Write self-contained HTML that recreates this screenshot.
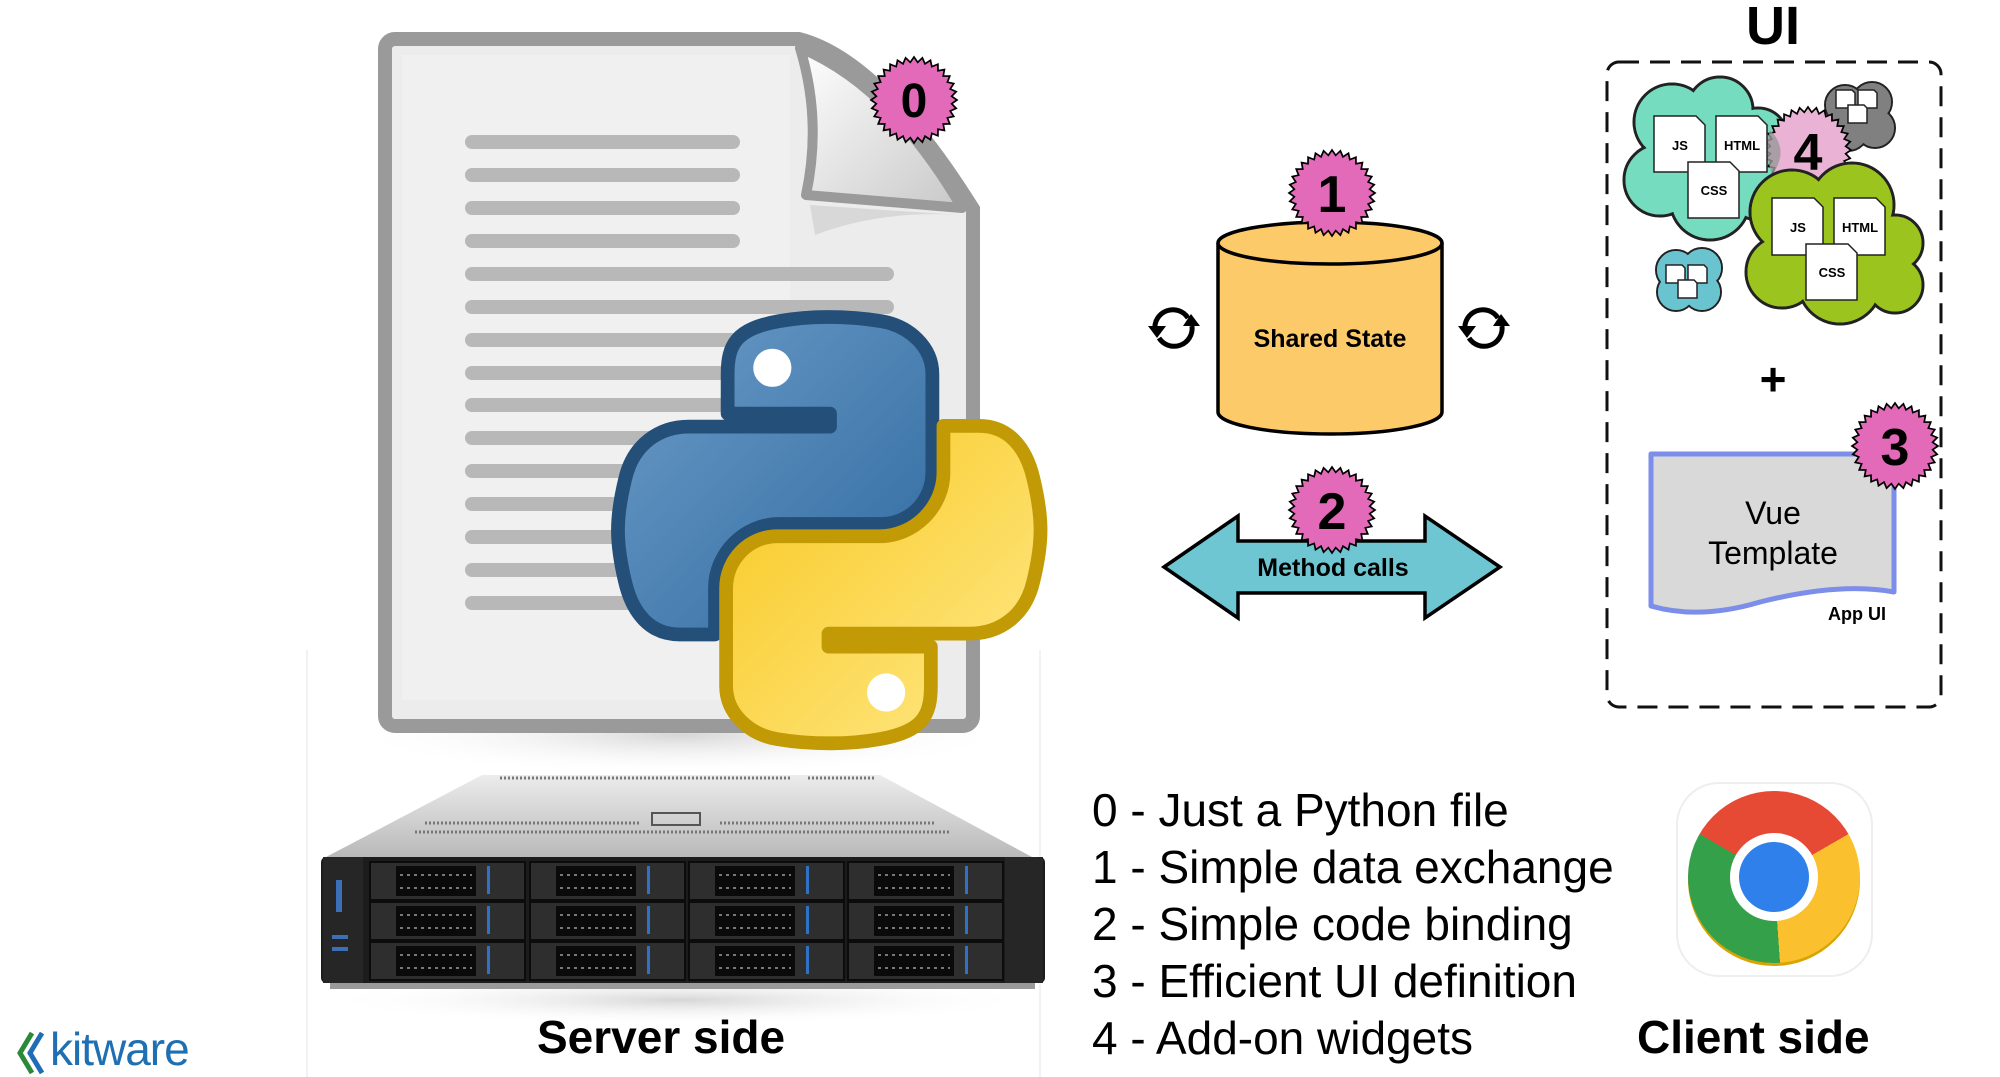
<!DOCTYPE html>
<html><head><meta charset="utf-8">
<style>
html,body{margin:0;padding:0;background:#fff;}
body{width:2000px;height:1077px;overflow:hidden;position:relative;font-family:"Liberation Sans",sans-serif;}
.t{position:absolute;white-space:nowrap;color:#000;}
</style></head><body>
<svg width="2000" height="1077" viewBox="0 0 2000 1077" style="position:absolute;left:0;top:0">
<defs>
<polygon id="star" points="100,0 87.6,8.6 98.1,19.5 84.2,25.5 92.4,38.3 77.6,41.5 83.2,55.6 68,55.8 70.7,70.7 55.8,68 55.6,83.2 41.5,77.6 38.3,92.4 25.5,84.2 19.5,98.1 8.6,87.6 0,100 -8.6,87.6 -19.5,98.1 -25.5,84.2 -38.3,92.4 -41.5,77.6 -55.6,83.2 -55.8,68 -70.7,70.7 -68,55.8 -83.2,55.6 -77.6,41.5 -92.4,38.3 -84.2,25.5 -98.1,19.5 -87.6,8.6 -100,0 -87.6,-8.6 -98.1,-19.5 -84.2,-25.5 -92.4,-38.3 -77.6,-41.5 -83.2,-55.6 -68,-55.8 -70.7,-70.7 -55.8,-68 -55.6,-83.2 -41.5,-77.6 -38.3,-92.4 -25.5,-84.2 -19.5,-98.1 -8.6,-87.6 0,-100 8.6,-87.6 19.5,-98.1 25.5,-84.2 38.3,-92.4 41.5,-77.6 55.6,-83.2 55.8,-68 70.7,-70.7 68,-55.8 83.2,-55.6 77.6,-41.5 92.4,-38.3 84.2,-25.5 98.1,-19.5 87.6,-8.6"/>
<linearGradient id="blueg" x1="0" y1="0" x2="1" y2="1"><stop offset="0" stop-color="#6c9cc8"/><stop offset="1" stop-color="#2f6aa0"/></linearGradient>
<linearGradient id="yelg" x1="0" y1="0" x2="1" y2="1"><stop offset="0" stop-color="#ffe98a"/><stop offset="1" stop-color="#f8c81e"/></linearGradient>
<linearGradient id="silver" x1="0" y1="0" x2="0" y2="1"><stop offset="0" stop-color="#ececec"/><stop offset="1" stop-color="#b9b9b9"/></linearGradient>
<linearGradient id="flap" x1="0" y1="0" x2="1" y2="1"><stop offset="0" stop-color="#ffffff"/><stop offset="1" stop-color="#c8c8c8"/></linearGradient>
<radialGradient id="shadow"><stop offset="0" stop-color="#bbb" stop-opacity="0.6"/><stop offset="1" stop-color="#fff" stop-opacity="0"/></radialGradient>
<path id="snake" d="M54.9,0 C50.3,0 46,0.4 42.1,1.1 C30.8,3.1 28.7,7.3 28.7,15 V25.3 H55.5 V28.7 H18.6 C10.8,28.7 4,33.3 1.9,42.3 C-0.6,52.5 -0.7,58.8 1.9,69.5 C3.8,77.4 8.3,83.1 16.1,83.1 H25.4 V70.8 C25.4,62 33,54.2 42.1,54.2 H68.9 C76.3,54.2 82.3,48.1 82.3,40.6 V15 C82.3,7.8 76.2,2.3 68.9,1.1 C64.3,0.3 59.5,0 54.9,0 Z"/>
</defs>

<!-- faint separators -->
<line x1="307" y1="650" x2="307" y2="1077" stroke="#f2f2f2" stroke-width="2"/>
<line x1="1040" y1="650" x2="1040" y2="1077" stroke="#f2f2f2" stroke-width="2"/>

<!-- document -->
<ellipse cx="680" cy="735" rx="330" ry="40" fill="url(#shadow)"/>
<path d="M395,39 H799 Q880,60 973,209 V716 a10,10 0 0 1 -10,10 H395 a10,10 0 0 1 -10,-10 V49 a10,10 0 0 1 10,-10 Z" fill="#ececec" stroke="#9a9a9a" stroke-width="14"/>
<path d="M402,55 H790 V700 H402 Z" fill="#f3f3f3" opacity="0.6"/>
<path d="M800,48 Q822,120 806,195 L962,208 Q890,85 800,48 Z" fill="url(#flap)" stroke="#9a9a9a" stroke-width="10" stroke-linejoin="round"/>
<path d="M810,205 L960,215 Q880,210 815,235 Z" fill="#d8d8d8"/>
<g stroke="#b8b8b8" stroke-width="14" stroke-linecap="round">
<line x1="472" y1="142" x2="733" y2="142"/>
<line x1="472" y1="175" x2="733" y2="175"/>
<line x1="472" y1="208" x2="733" y2="208"/>
<line x1="472" y1="241" x2="733" y2="241"/>
<line x1="472" y1="274" x2="887" y2="274"/>
<line x1="472" y1="307" x2="887" y2="307"/>
<line x1="472" y1="340" x2="887" y2="340"/>
<line x1="472" y1="373" x2="887" y2="373"/>
<line x1="472" y1="405" x2="887" y2="405"/>
<line x1="472" y1="438" x2="887" y2="438"/>
<line x1="472" y1="471" x2="887" y2="471"/>
<line x1="472" y1="504" x2="887" y2="504"/>
<line x1="472" y1="537" x2="887" y2="537"/>
<line x1="472" y1="570" x2="887" y2="570"/>
<line x1="472" y1="603" x2="887" y2="603"/>
</g>

<!-- python logo -->
<g transform="translate(618,317) scale(3.82)">
<use href="#snake" fill="url(#blueg)" stroke="#234f78" stroke-width="3.6" stroke-linejoin="round"/>
<circle cx="40.4" cy="13.3" r="5" fill="#fff"/>
<g transform="rotate(180 55.3 55.8)">
<use href="#snake" fill="url(#yelg)" stroke="#c19a05" stroke-width="3.6" stroke-linejoin="round"/>
<circle cx="40.4" cy="13.3" r="5" fill="#fff"/>
</g>
</g>

<!-- server -->
<ellipse cx="680" cy="1000" rx="360" ry="25" fill="url(#shadow)"/>
<polygon points="482,775 880,775 1032,857 326,857" fill="url(#silver)"/>
<g stroke="#777" stroke-width="3" stroke-dasharray="2,2">
<line x1="500" y1="778" x2="790" y2="778"/><line x1="808" y1="778" x2="875" y2="778"/>
<line x1="425" y1="823" x2="640" y2="823"/><line x1="720" y1="823" x2="935" y2="823"/>
<line x1="415" y1="832" x2="950" y2="832"/>
</g>
<rect x="652" y="813" width="48" height="12" fill="none" stroke="#555" stroke-width="2"/>
<rect x="321" y="857" width="724" height="126" rx="5" fill="#1c1c1c"/>
<rect x="330" y="983" width="705" height="6" fill="#9a9a9a"/>
<rect x="323" y="857" width="40" height="126" fill="#262626"/>
<rect x="336" y="880" width="6" height="32" fill="#3b6fb8"/>
<rect x="332" y="935" width="16" height="4" fill="#3b6fb8"/>
<rect x="332" y="947" width="16" height="4" fill="#3b6fb8"/>
<rect x="1005" y="857" width="38" height="126" fill="#262626"/>
<g id="bays">
<g fill="#2e2e2e" stroke="#0c0c0c" stroke-width="2">
<rect x="370" y="862" width="155" height="38"/><rect x="530" y="862" width="155" height="38"/><rect x="689" y="862" width="155" height="38"/><rect x="848" y="862" width="155" height="38"/>
<rect x="370" y="902" width="155" height="38"/><rect x="530" y="902" width="155" height="38"/><rect x="689" y="902" width="155" height="38"/><rect x="848" y="902" width="155" height="38"/>
<rect x="370" y="942" width="155" height="38"/><rect x="530" y="942" width="155" height="38"/><rect x="689" y="942" width="155" height="38"/><rect x="848" y="942" width="155" height="38"/>
</g>
<g fill="#0a0a0a">
<rect x="396" y="866" width="80" height="30"/><rect x="556" y="866" width="80" height="30"/><rect x="715" y="866" width="80" height="30"/><rect x="874" y="866" width="80" height="30"/>
<rect x="396" y="906" width="80" height="30"/><rect x="556" y="906" width="80" height="30"/><rect x="715" y="906" width="80" height="30"/><rect x="874" y="906" width="80" height="30"/>
<rect x="396" y="946" width="80" height="30"/><rect x="556" y="946" width="80" height="30"/><rect x="715" y="946" width="80" height="30"/><rect x="874" y="946" width="80" height="30"/>
</g>
<g fill="#2d72c4">
<rect x="487" y="866" width="3" height="28"/><rect x="647" y="866" width="3" height="28"/><rect x="806" y="866" width="3" height="28"/><rect x="965" y="866" width="3" height="28"/>
<rect x="487" y="906" width="3" height="28"/><rect x="647" y="906" width="3" height="28"/><rect x="806" y="906" width="3" height="28"/><rect x="965" y="906" width="3" height="28"/>
<rect x="487" y="946" width="3" height="28"/><rect x="647" y="946" width="3" height="28"/><rect x="806" y="946" width="3" height="28"/><rect x="965" y="946" width="3" height="28"/>
</g>
<g stroke="#777" stroke-width="2" stroke-dasharray="3,4">
<line x1="400" y1="875" x2="472" y2="875"/><line x1="400" y1="888" x2="472" y2="888"/><line x1="560" y1="875" x2="632" y2="875"/><line x1="560" y1="888" x2="632" y2="888"/><line x1="719" y1="875" x2="791" y2="875"/><line x1="719" y1="888" x2="791" y2="888"/><line x1="878" y1="875" x2="950" y2="875"/><line x1="878" y1="888" x2="950" y2="888"/>
<line x1="400" y1="915" x2="472" y2="915"/><line x1="400" y1="928" x2="472" y2="928"/><line x1="560" y1="915" x2="632" y2="915"/><line x1="560" y1="928" x2="632" y2="928"/><line x1="719" y1="915" x2="791" y2="915"/><line x1="719" y1="928" x2="791" y2="928"/><line x1="878" y1="915" x2="950" y2="915"/><line x1="878" y1="928" x2="950" y2="928"/>
<line x1="400" y1="955" x2="472" y2="955"/><line x1="400" y1="968" x2="472" y2="968"/><line x1="560" y1="955" x2="632" y2="955"/><line x1="560" y1="968" x2="632" y2="968"/><line x1="719" y1="955" x2="791" y2="955"/><line x1="719" y1="968" x2="791" y2="968"/><line x1="878" y1="955" x2="950" y2="955"/><line x1="878" y1="968" x2="950" y2="968"/>
</g>
</g>

<!-- badge 0 -->
<g transform="translate(914,100) scale(0.43)"><use href="#star" fill="#e36ab8" stroke="#000" stroke-width="4"/></g>
<text x="914" y="117" font-family="Liberation Sans" font-weight="bold" font-size="48" text-anchor="middle">0</text>

<!-- cylinder -->
<path d="M1218,243 V412 A112,22 0 0 0 1442,412 V243" fill="#fdca6a" stroke="#000" stroke-width="3.5"/>
<ellipse cx="1330" cy="243" rx="112" ry="21" fill="#fdca6a" stroke="#000" stroke-width="3.5"/>
<text x="1330" y="347" font-family="Liberation Sans" font-weight="bold" font-size="25" text-anchor="middle">Shared State</text>
<g transform="translate(1332,193) scale(0.43)"><use href="#star" fill="#e36ab8" stroke="#000" stroke-width="4"/></g>
<text x="1332" y="212" font-family="Liberation Sans" font-weight="bold" font-size="52" text-anchor="middle">1</text>

<!-- sync icons -->
<g fill="none" stroke="#000" stroke-width="5">
<path d="M1155,330 A18,18 0 0 1 1188,318"/><path d="M1192,326 A18,18 0 0 1 1159,338"/>
<path d="M1465,330 A18,18 0 0 1 1498,318"/><path d="M1502,326 A18,18 0 0 1 1469,338"/>
</g>
<g fill="#000">
<polygon points="1148,326 1166,326 1157,338"/><polygon points="1183,326 1200,326 1191,314"/>
<polygon points="1458,326 1476,326 1467,338"/><polygon points="1493,326 1510,326 1501,314"/>
</g>

<!-- double arrow -->
<polygon points="1164,567 1238,516 1238,541 1425,541 1425,516 1500,567 1425,618 1425,593 1238,593 1238,618" fill="#6ec6d2" stroke="#000" stroke-width="3.5" stroke-linejoin="miter"/>
<text x="1333" y="576" font-family="Liberation Sans" font-weight="bold" font-size="25" text-anchor="middle">Method calls</text>
<g transform="translate(1332,510) scale(0.43)"><use href="#star" fill="#e36ab8" stroke="#000" stroke-width="4"/></g>
<text x="1332" y="529" font-family="Liberation Sans" font-weight="bold" font-size="52" text-anchor="middle">2</text>

<!-- UI box -->
<rect x="1607" y="62" width="334" height="645" rx="12" fill="none" stroke="#111" stroke-width="3" stroke-dasharray="20,11"/>
<text x="1773" y="44" font-family="Liberation Sans" font-weight="bold" font-size="54" text-anchor="middle">UI</text>

<!-- teal cloud -->
<g fill="#76dcbf" stroke="#222" stroke-width="3">
<circle cx="1672" cy="122" r="38"/><circle cx="1720" cy="110" r="33"/><circle cx="1758" cy="138" r="30"/><circle cx="1660" cy="180" r="36"/><circle cx="1710" cy="200" r="40"/><circle cx="1758" cy="190" r="30"/>
</g>
<g fill="#76dcbf"><circle cx="1672" cy="122" r="36.5"/><circle cx="1720" cy="110" r="31.5"/><circle cx="1758" cy="138" r="28.5"/><circle cx="1660" cy="180" r="34.5"/><circle cx="1710" cy="200" r="38.5"/><circle cx="1758" cy="190" r="28.5"/><rect x="1665" y="130" width="90" height="70"/></g>
<!-- grey cloud -->
<g fill="#808080" stroke="#222" stroke-width="2"><circle cx="1845" cy="105" r="20"/><circle cx="1872" cy="102" r="20"/><circle cx="1875" cy="128" r="20"/><circle cx="1848" cy="130" r="21"/></g>
<g fill="#808080"><circle cx="1845" cy="105" r="19"/><circle cx="1872" cy="102" r="19"/><circle cx="1875" cy="128" r="19"/><circle cx="1848" cy="130" r="20"/></g>
<!-- small blue cloud -->
<g fill="#6ac4d0" stroke="#222" stroke-width="2"><circle cx="1676" cy="270" r="20"/><circle cx="1702" cy="268" r="20"/><circle cx="1702" cy="292" r="19"/><circle cx="1676" cy="292" r="19"/></g>
<g fill="#6ac4d0"><circle cx="1676" cy="270" r="19"/><circle cx="1702" cy="268" r="19"/><circle cx="1702" cy="292" r="18"/><circle cx="1676" cy="292" r="18"/></g>
<!-- badge 4 -->
<g transform="translate(1808,150) scale(0.43)"><use href="#star" fill="#eab3d6" stroke="#000" stroke-width="4"/></g>
<path d="M1770,130 Q1790,150 1772,175 L1765,150 Z" fill="#999" opacity="0.8"/>
<!-- green cloud -->
<g fill="#9bc41f" stroke="#222" stroke-width="3">
<circle cx="1792" cy="212" r="42"/><circle cx="1852" cy="205" r="42"/><circle cx="1895" cy="243" r="28"/><circle cx="1782" cy="272" r="36"/><circle cx="1840" cy="282" r="42"/><circle cx="1895" cy="285" r="28"/>
</g>
<g fill="#9bc41f"><circle cx="1792" cy="212" r="40.5"/><circle cx="1852" cy="205" r="40.5"/><circle cx="1895" cy="243" r="26.5"/><circle cx="1782" cy="272" r="34.5"/><circle cx="1840" cy="282" r="40.5"/><circle cx="1895" cy="285" r="26.5"/><rect x="1790" y="220" width="100" height="70"/></g>
<text x="1808" y="170" font-family="Liberation Sans" font-weight="bold" font-size="52" text-anchor="middle">4</text>

<!-- docs -->
<g fill="#fff" stroke="#222" stroke-width="1.5" font-family="Liberation Sans" font-weight="bold">
<path d="M1654,116 H1696 L1705,125 V172 H1654 Z"/><path d="M1716,116 H1758 L1767,125 V172 H1716 Z"/><path d="M1688,162 H1730 L1739,171 V218 H1688 Z"/>
<path d="M1772,198 H1814 L1823,207 V255 H1772 Z"/><path d="M1834,198 H1876 L1885,207 V255 H1834 Z"/><path d="M1806,244 H1848 L1857,253 V300 H1806 Z"/>
<path d="M1836,90 H1852 L1855,93 V108 H1836 Z"/><path d="M1858,90 H1874 L1877,93 V108 H1858 Z"/><path d="M1848,105 H1864 L1867,108 V123 H1848 Z"/>
<path d="M1666,265 H1682 L1685,268 V283 H1666 Z"/><path d="M1688,265 H1704 L1707,268 V283 H1688 Z"/><path d="M1678,280 H1694 L1697,283 V298 H1678 Z"/>
</g>
<g font-family="Liberation Sans" font-weight="bold" font-size="13" text-anchor="middle" fill="#000">
<text x="1680" y="150">JS</text><text x="1742" y="150">HTML</text><text x="1714" y="195">CSS</text>
<text x="1798" y="232">JS</text><text x="1860" y="232">HTML</text><text x="1832" y="277">CSS</text>
</g>

<!-- plus -->
<text x="1773" y="395" font-family="Liberation Sans" font-weight="bold" font-size="46" text-anchor="middle">+</text>

<!-- vue template -->
<path d="M1651,454 H1894 V592 Q1840,582 1760,602 Q1700,620 1651,606 Z" fill="#d9d9d9" stroke="#7c8ee9" stroke-width="5" stroke-linejoin="round"/>
<text x="1773" y="524" font-family="Liberation Sans" font-size="32" text-anchor="middle">Vue</text>
<text x="1773" y="564" font-family="Liberation Sans" font-size="32" text-anchor="middle">Template</text>
<text x="1857" y="620" font-family="Liberation Sans" font-weight="bold" font-size="18" text-anchor="middle">App UI</text>
<g transform="translate(1895,446) scale(0.43)"><use href="#star" fill="#e36ab8" stroke="#000" stroke-width="4"/></g>
<text x="1895" y="465" font-family="Liberation Sans" font-weight="bold" font-size="52" text-anchor="middle">3</text>

<!-- chrome -->
<rect x="1677" y="783" width="195" height="193" rx="42" fill="#fff" stroke="#eee" stroke-width="2"/>
<circle cx="1774" cy="880" r="86" fill="#d9a400"/>
</svg>

<div style="position:absolute;left:1688px;top:791px;width:172px;height:172px;border-radius:50%;background:conic-gradient(from -60deg,#e64a34 0deg 120deg,#fbc02d 120deg 236deg,#35a04a 236deg 360deg);"></div>
<div style="position:absolute;left:1730px;top:833px;width:88px;height:88px;border-radius:50%;background:#fff;"></div>
<div style="position:absolute;left:1739px;top:842px;width:70px;height:70px;border-radius:50%;background:#2f80ea;"></div>

<div class="t" style="left:1092px;top:782px;font-size:46px;line-height:57px;">0 - Just a Python file<br>1 - Simple data exchange<br>2 - Simple code binding<br>3 - Efficient UI definition<br>4 - Add-on widgets</div>

<div class="t" style="left:537px;top:1011px;font-size:46px;font-weight:bold;line-height:52px;">Server side</div>
<div class="t" style="left:1637px;top:1011px;font-size:46px;font-weight:bold;line-height:52px;">Client side</div>

<svg width="40" height="44" viewBox="0 0 40 44" style="position:absolute;left:16px;top:1031px">
<polyline points="16,2 4,22 16,42" fill="none" stroke="#2a8a3a" stroke-width="5"/>
<polyline points="26,2 14,22 26,42" fill="none" stroke="#1f6db5" stroke-width="5"/>
</svg>
<div class="t" style="left:50px;top:1022px;font-size:46px;color:#1f6fb3;letter-spacing:-1px;">kitware</div>
</body></html>
